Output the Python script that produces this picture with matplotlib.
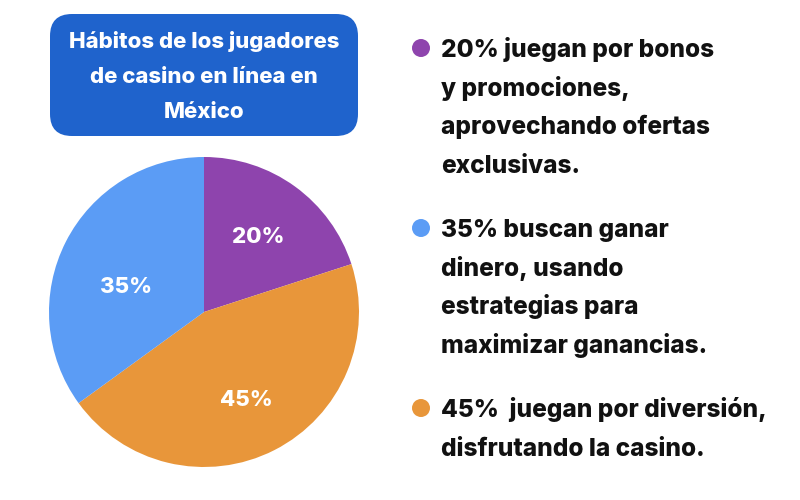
import matplotlib.pyplot as plt
from matplotlib.patches import FancyBboxPatch, Circle

# data
shares = [20, 45, 35]
colors = ["#8E44AD", "#E8963A", "#5B9CF5"]
title_lines = ["Hábitos de los jugadores", "de casino en línea en", "México"]
legend_texts = [
    ["20% juegan por bonos", "y promociones,", "aprovechando ofertas", "exclusivas."],
    ["35% buscan ganar", "dinero, usando", "estrategias para", "maximizar ganancias."],
    ["45%  juegan por diversión,", "disfrutando la casino."],
]
legend_colors = ["#8E44AD", "#5B9CF5", "#E8963A"]

plt.rcParams['font.family'] = ['Inter', 'DejaVu Sans']

W, H = 800, 500
fig = plt.figure(figsize=(8, 5), dpi=100)

# overlay axes in pixel units (y down)
bg = fig.add_axes([0, 0, 1, 1])
bg.set_xlim(0, W)
bg.set_ylim(H, 0)
bg.axis("off")

# title box
box = FancyBboxPatch((50, 14), 308, 122, boxstyle="round,pad=0,rounding_size=22",
                     fc="#1F63CC", ec="none")
bg.add_patch(box)
for i, line in enumerate(title_lines):
    bg.text(204, 48 + i * 35, line, ha="center", va="baseline", color="white",
            fontsize=16, fontweight="heavy")

# pie
cx, cy, r = 204, 312, 155
pax = fig.add_axes([(cx - r) / W, (H - cy - r) / H, 2 * r / W, 2 * r / H])
wedges, texts, autotexts = pax.pie(shares, colors=colors, startangle=90, counterclock=False,
                                   autopct="%d%%", pctdistance=0.6,
                                   textprops=dict(color="white", fontsize=16, fontweight="heavy"))
# small nudges so labels sit where the original has them
nudges = [(0.0, 0.0), (0.0, -0.03), (0.03, -0.11)]
for t, (dx, dy) in zip(autotexts, nudges):
    x, y = t.get_position()
    t.set_position((x + dx, y + dy))
pax.set_xlim(-1, 1)
pax.set_ylim(-1, 1)
pax.set_aspect("equal")

# legend
starts = [57, 237, 417]
step = 38.7
for lines, col, y0 in zip(legend_texts, legend_colors, starts):
    bg.add_patch(Circle((421, y0 - 9), 9, fc=col, ec="none"))
    for i, line in enumerate(lines):
        bg.text(441, y0 + i * step, line, ha="left", va="baseline", color="#111111",
                fontsize=17.6, fontweight="heavy")

fig.savefig("out.png", dpi=100)
